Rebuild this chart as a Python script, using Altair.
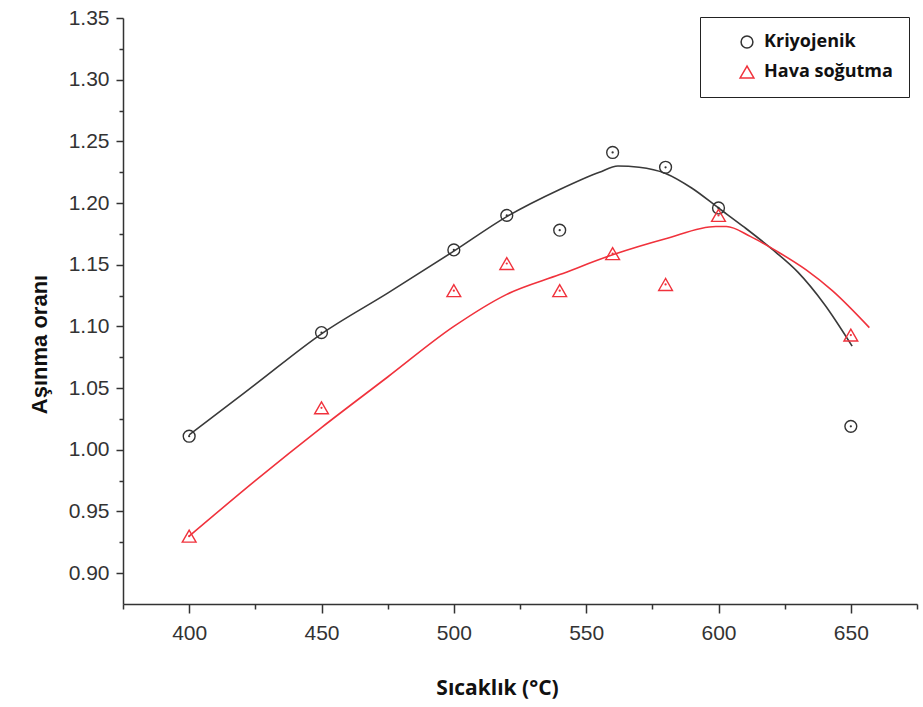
import altair as alt
import pandas as pd

# Measured points
temps = [400, 450, 500, 520, 540, 560, 580, 600, 650]
kriyo = [1.011, 1.095, 1.162, 1.190, 1.178, 1.241, 1.229, 1.196, 1.019]
hava = [0.930, 1.034, 1.129, 1.151, 1.129, 1.159, 1.134, 1.190, 1.093]

# Fitted curves
kx = [400, 425, 450, 475, 500, 520, 540, 555, 562, 570, 580, 590, 600, 610, 620, 630, 640, 650.5]
ky = [1.012, 1.053, 1.094, 1.127, 1.161, 1.189, 1.211, 1.225, 1.230, 1.229, 1.224, 1.212, 1.196,
      1.180, 1.163, 1.144, 1.118, 1.084]
rx = [400, 425, 450, 475, 500, 520, 540, 560, 580, 599, 603, 612, 622, 633, 643, 657]
ry = [0.930, 0.975, 1.018, 1.059, 1.100, 1.126, 1.142, 1.158, 1.171, 1.181, 1.181, 1.173,
      1.161, 1.146, 1.129, 1.099]

series = ["Kriyojenik", "Hava soğutma"]
colors = ["#333333", "#f0323c"]
shapes = ["circle", "triangle-up"]
sizes = [140, 190]

y_major = [0.90, 0.95, 1.00, 1.05, 1.10, 1.15, 1.20, 1.25, 1.30, 1.35]
y_minor = [0.925, 0.975, 1.025, 1.075, 1.125, 1.175, 1.225, 1.275, 1.325]
x_major = [400, 450, 500, 550, 600, 650]
x_minor = [375, 425, 475, 525, 575, 625, 675]

pts = pd.DataFrame({
    "T": temps + temps,
    "v": kriyo + hava,
    "s": [series[0]] * len(temps) + [series[1]] * len(temps),
})
kcurve = pd.DataFrame({"T": kx, "v": ky})
rcurve = pd.DataFrame({"T": rx, "v": ry})

xs = alt.Scale(domain=[375, 675], nice=False, zero=False)
ys = alt.Scale(domain=[0.875, 1.35], nice=False, zero=False)

x_ax = alt.Axis(values=x_major, orient="bottom", tickSize=9, labelPadding=9,
                title="Sıcaklık (°C)", titleFont="Open Sans", titleFontSize=21,
                titleFontWeight="bold", titleColor="#111111",
                titleX=374, titleY=84, titleBaseline="middle", titleAlign="center",
                grid=False)
y_ax = alt.Axis(values=y_major, orient="left", format=".2f", tickSize=7, labelPadding=7,
                title="Aşınma oranı", titleFont="Liberation Sans", titleFontSize=22,
                titleFontWeight="bold", titleColor="#111111",
                titleX=-84, titleY=326, titleAngle=-90, titleBaseline="middle",
                titleAlign="center", grid=False)

line_k = alt.Chart(kcurve).mark_line(color="#3a3a3a", strokeWidth=1.6, interpolate="monotone").encode(
    x=alt.X("T:Q", scale=xs, axis=x_ax),
    y=alt.Y("v:Q", scale=ys, axis=y_ax),
)
line_r = alt.Chart(rcurve).mark_line(color="#f0323c", strokeWidth=1.6, interpolate="monotone").encode(
    x=alt.X("T:Q", scale=xs, axis=None),
    y=alt.Y("v:Q", scale=ys, axis=None),
)

points = alt.Chart(pts).mark_point(filled=False, strokeWidth=1.4, opacity=1).encode(
    x=alt.X("T:Q", scale=xs, axis=None),
    y=alt.Y("v:Q", scale=ys, axis=None),
    color=alt.Color("s:N", scale=alt.Scale(domain=series, range=colors),
                    legend=alt.Legend(title=None, labelExpr="datum.label + '            '")),
    shape=alt.Shape("s:N", scale=alt.Scale(domain=series, range=shapes),
                    legend=alt.Legend(title=None, labelExpr="datum.label + '            '")),
    size=alt.Size("s:N", scale=alt.Scale(domain=series, range=sizes), legend=None),
)

dot_k = alt.Chart(pts).transform_filter(alt.datum.s == series[0]).mark_point(
    filled=True, size=5, color=colors[0], opacity=1, shape="circle").encode(
    x=alt.X("T:Q", scale=xs, axis=None), y=alt.Y("v:Q", scale=ys, axis=None))
dot_r = alt.Chart(pts).transform_filter(alt.datum.s == series[1]).mark_point(
    filled=True, size=5, color=colors[1], opacity=1, shape="circle").encode(
    x=alt.X("T:Q", scale=xs, axis=None), y=alt.Y("v:Q", scale=ys, axis=None))

minor = alt.Chart(pts).mark_point(opacity=0).encode(
    x=alt.X("T:Q", scale=xs, axis=alt.Axis(values=x_minor, orient="bottom", tickSize=5,
                                             labels=False, domain=False, title=None, grid=False)),
    y=alt.Y("v:Q", scale=ys, axis=alt.Axis(values=y_minor, orient="left", tickSize=4,
                                             labels=False, domain=False, title=None, grid=False)),
)

chart = alt.layer(line_k, line_r, points, dot_k, dot_r, minor).resolve_axis(
    x="independent", y="independent"
).resolve_scale(x="shared", y="shared").properties(
    width=794, height=586,
    autosize=alt.AutoSizeParams(type="none"),
    padding={"left": 123, "top": 18, "right": 6, "bottom": 103},
    background="white",
).configure_view(strokeWidth=0).configure_axis(
    domainColor="#333333", domainWidth=1.5, tickColor="#333333", tickWidth=1.5,
    labelColor="#333333", labelFont="Liberation Sans", labelFontSize=21,
).configure_legend(
    orient="none", legendX=577, legendY=-1, padding=16, symbolOffset=22,
    labelOffset=8, rowPadding=12, strokeColor="#222222", fillColor="white",
    labelFont="Open Sans", labelFontSize=18, labelFontWeight="bold", labelColor="#111111",
    symbolSize=150, symbolStrokeWidth=1.5, labelLimit=400,
)

chart.save("out.html", embed_options={"renderer": "svg", "actions": False})
